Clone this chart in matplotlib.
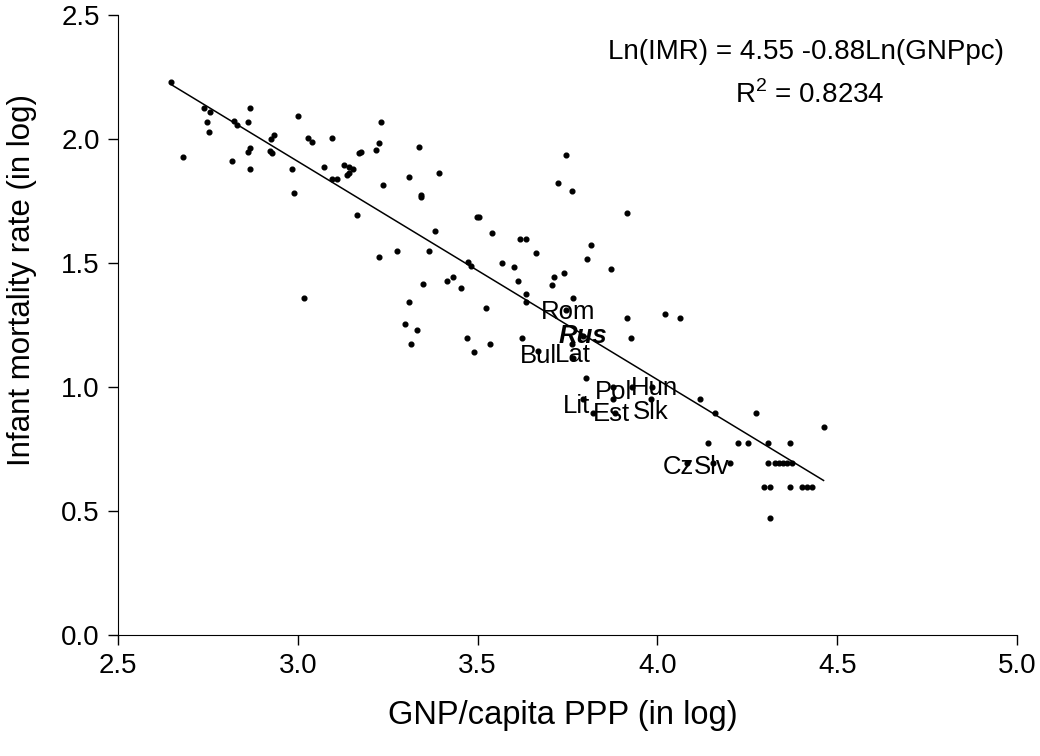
import matplotlib
matplotlib.use("Agg")
import matplotlib.pyplot as plt
import numpy as np

plt.rcParams['font.family'] = ['Liberation Sans', 'DejaVu Sans']
plt.rcParams['mathtext.fontset'] = 'custom'
plt.rcParams['mathtext.rm'] = 'Liberation Sans'

# log GNP per capita (PPP) and log infant mortality rate
gnp_log = [
    2.647, 2.680, 2.740, 2.757, 2.747, 2.752, 2.818, 2.823, 2.830, 2.868,
    2.862, 2.867, 2.862, 2.867, 2.924, 2.935, 2.922, 2.928, 2.984, 2.989,
    3.001, 3.016, 3.028, 3.040, 3.094, 3.072, 3.094, 3.110, 3.127, 3.143,
    3.154, 3.138, 3.143, 3.165, 3.171, 3.177, 3.216, 3.227, 3.232, 3.238,
    3.226, 3.276, 3.337, 3.309, 3.392, 3.343, 3.343, 3.497, 3.504, 3.382,
    3.541, 3.619, 3.635, 3.745, 3.723, 3.762, 3.915, 3.364, 3.816, 3.662,
    3.474, 3.481, 3.569, 3.602, 3.613, 3.635, 3.635, 3.414, 3.431, 3.453,
    3.348, 3.309, 3.524, 3.298, 3.331, 3.315, 3.470, 3.534, 3.624, 3.491,
    3.805, 3.872, 3.739, 3.712, 3.706, 3.766, 3.915, 4.021, 4.064, 3.927,
    3.762, 3.669, 3.766, 3.800, 3.877, 3.877, 3.928, 3.985, 3.982, 3.794,
    3.822, 3.882, 4.119, 4.159, 4.274, 4.462, 4.142, 4.224, 4.252, 4.308,
    4.369, 4.081, 4.155, 4.202, 4.308, 4.327, 4.338, 4.349, 4.360, 4.374,
    4.296, 4.313, 4.369, 4.402, 4.416, 4.429, 4.313, 3.746, 3.793,
]
imr_log = [
    2.229, 1.926, 2.126, 2.109, 2.070, 2.029, 1.910, 2.073, 2.055, 2.126,
    2.070, 1.965, 1.950, 1.879, 1.999, 2.015, 1.953, 1.942, 1.879, 1.781,
    2.094, 1.358, 2.005, 1.989, 2.005, 1.886, 1.839, 1.839, 1.894, 1.886,
    1.879, 1.854, 1.862, 1.694, 1.942, 1.950, 1.958, 1.983, 2.070, 1.813,
    1.525, 1.550, 1.967, 1.846, 1.862, 1.773, 1.765, 1.685, 1.685, 1.629,
    1.622, 1.598, 1.598, 1.934, 1.821, 1.790, 1.702, 1.550, 1.574, 1.542,
    1.503, 1.487, 1.501, 1.485, 1.429, 1.374, 1.342, 1.429, 1.445, 1.398,
    1.414, 1.342, 1.317, 1.254, 1.230, 1.173, 1.198, 1.173, 1.198, 1.141,
    1.517, 1.477, 1.461, 1.445, 1.413, 1.358, 1.278, 1.294, 1.278, 1.198,
    1.175, 1.145, 1.116, 1.038, 1.000, 0.950, 1.000, 1.000, 0.950, 0.950,
    0.895, 0.895, 0.950, 0.894, 0.894, 0.838, 0.773, 0.773, 0.773, 0.773,
    0.773, 0.694, 0.694, 0.694, 0.694, 0.694, 0.694, 0.694, 0.694, 0.694,
    0.597, 0.597, 0.597, 0.597, 0.597, 0.597, 0.470, 1.310, 1.206,
]

# transition countries labelled on the chart (label centre positions)
labels = ["Rom", "Rus", "Bul", "Lat", "Pol", "Hun", "Lit", "Est", "Slk", "Cz", "Slv"]
label_x = [3.751, 3.793, 3.668, 3.765, 3.879, 3.991, 3.774, 3.871, 3.982, 4.057, 4.152]
label_y = [1.302, 1.206, 1.125, 1.129, 0.980, 0.996, 0.923, 0.891, 0.899, 0.677, 0.677]

# regression line from the chart annotation
intercept = 4.55
slope = -0.88
r2 = 0.8234

fig = plt.figure(figsize=(10.4, 7.56), dpi=100)
ax = fig.add_axes([0.1135, 0.160, 0.8644, 0.820])

ax.plot(gnp_log, imr_log, 'o', color='black', markersize=3.4, zorder=3)

xs = np.array([min(gnp_log), max(gnp_log)])
ax.plot(xs, intercept + slope * xs, color='black', linewidth=1.1, zorder=2)

for name, lx, ly in zip(labels, label_x, label_y):
    if name == "Rus":
        ax.text(lx, ly, name, ha='center', va='center', fontsize=18.5,
                fontweight='bold', fontstyle='italic', zorder=4)
    else:
        ax.text(lx, ly, name, ha='center', va='center', fontsize=18.5, zorder=4)

ax.text(4.413, 2.351, "Ln(IMR) = %.2f %.2fLn(GNPpc)" % (intercept, slope),
        ha='center', va='center', fontsize=20)
ax.text(4.424, 2.177, "R$^2$ = %.4f" % r2, ha='center', va='center', fontsize=20)

ax.set_xlim(2.5, 5.0)
ax.set_ylim(0.0, 2.5)
ax.set_xticks(np.arange(2.5, 5.01, 0.5))
ax.set_yticks(np.arange(0.0, 2.51, 0.5))
ax.xaxis.set_major_formatter(matplotlib.ticker.FormatStrFormatter('%.1f'))
ax.yaxis.set_major_formatter(matplotlib.ticker.FormatStrFormatter('%.1f'))
ax.spines['top'].set_visible(False)
ax.spines['right'].set_visible(False)
ax.tick_params(direction='out', length=7, width=1, labelsize=20, pad=6)
ax.set_xlabel("GNP/capita PPP (in log)", fontsize=23.5)
ax.set_ylabel("Infant mortality rate (in log)", fontsize=22.5)
ax.xaxis.set_label_coords(0.495, -0.105)
ax.yaxis.set_label_coords(-0.090, 0.573)

fig.savefig("out.png", dpi=100)
